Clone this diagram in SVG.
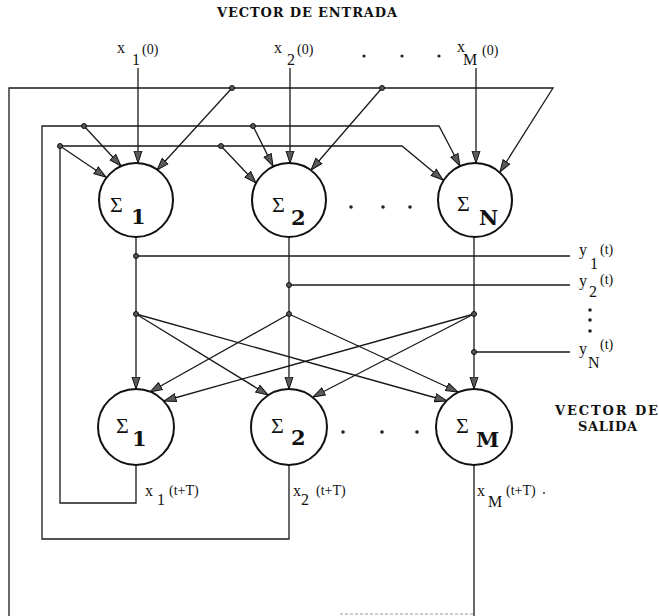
<svg xmlns="http://www.w3.org/2000/svg" width="659" height="616" viewBox="0 0 659 616">
<defs>
<marker id="arr" viewBox="0 0 13 10" refX="12.5" refY="5" markerWidth="13" markerHeight="10" orient="auto" markerUnits="userSpaceOnUse">
<path d="M0.5,1 L12.5,5 L0.5,9 Z" fill="#5a5a5a" stroke="#111" stroke-width="1"/>
</marker>
</defs>
<style>
.ln{fill:none;stroke:#1a1a1a;stroke-width:1.3}
.ar{fill:none;stroke:#1a1a1a;stroke-width:1.3;marker-end:url(#arr)}
.nd{fill:#fff;stroke:#111;stroke-width:2}
.dot{fill:#555;stroke:#111;stroke-width:1}
.sd{fill:#222}
.t{font-family:"Liberation Serif",serif;font-size:16px;fill:#111}
.ts{font-family:"Liberation Serif",serif;font-size:14px;fill:#111}
.sig{font-family:"Liberation Serif",serif;font-size:22px;fill:#111}
.sub{font-family:"DejaVu Serif",serif;font-size:21px;font-weight:bold;fill:#111}
.hd{font-family:"DejaVu Serif",serif;font-size:13px;font-weight:bold;fill:#111}
</style>
<g id="connectors">
<path class="ar" d="M138,68 V163"/>
<path class="ar" d="M290,68 V163"/>
<path class="ar" d="M476,68 V163"/>
<path class="ar" d="M474,465 V616 M9,616 V88 H553 L500,172"/>
<path d="M340,614 H474" fill="none" stroke="#999" stroke-width="1" stroke-dasharray="3,2"/>
<path class="ar" d="M232,88 L157,170"/>
<path class="ar" d="M382,88 L311,170"/>
<path class="ar" d="M289,465 V539 H42 V126 H439 L460,166"/>
<path class="ar" d="M84,126 L121,166"/>
<path class="ar" d="M253,126 L273,166"/>
<path class="ar" d="M136,465 V503 H60 V146 H402 L443,180"/>
<path class="ar" d="M60,146 L106,177"/>
<path class="ar" d="M221,146 L256,183"/>
<path class="ar" d="M136,237 V389"/>
<path class="ar" d="M289,237 V389"/>
<path class="ar" d="M474,237 V389"/>
<path class="ln" d="M136,256 H570"/>
<path class="ln" d="M289,285 H570"/>
<path class="ln" d="M474,352 H570"/>
<path class="ar" d="M136,314 L268,395"/>
<path class="ar" d="M136,314 L447,401"/>
<path class="ar" d="M289,314 L150,392"/>
<path class="ar" d="M289,314 L458,392"/>
<path class="ar" d="M474,314 L164,401"/>
<path class="ar" d="M474,314 L313,397"/>
<circle class="dot" cx="232" cy="88" r="2.5"/>
<circle class="dot" cx="382" cy="88" r="2.5"/>
<circle class="dot" cx="84" cy="126" r="2.5"/>
<circle class="dot" cx="253" cy="126" r="2.5"/>
<circle class="dot" cx="60" cy="146" r="2.5"/>
<circle class="dot" cx="221" cy="146" r="2.5"/>
<circle class="dot" cx="136" cy="256" r="2.5"/>
<circle class="dot" cx="289" cy="285" r="2.5"/>
<circle class="dot" cx="474" cy="352" r="2.5"/>
<circle class="dot" cx="136" cy="314" r="2.5"/>
<circle class="dot" cx="289" cy="314" r="2.5"/>
<circle class="dot" cx="474" cy="314" r="2.5"/>
</g>
<g id="top-s1"><circle class="nd" cx="136" cy="200" r="37"/><text class="sig" x="110" y="212">Σ</text><text class="sub" x="131" y="224">1</text></g>
<g id="top-s2"><circle class="nd" cx="289" cy="200" r="37"/><text class="sig" x="272" y="212">Σ</text><text class="sub" x="291" y="225">2</text></g>
<g id="top-sN"><circle class="nd" cx="475" cy="200" r="37"/><text class="sig" x="457" y="211">Σ</text><text class="sub" x="479" y="225">N</text></g>
<g id="bot-s1"><circle class="nd" cx="136" cy="427" r="38"/><text class="sig" x="116" y="433">Σ</text><text class="sub" x="132" y="446">1</text></g>
<g id="bot-s2"><circle class="nd" cx="289" cy="427" r="38"/><text class="sig" x="271" y="433">Σ</text><text class="sub" x="291" y="445">2</text></g>
<g id="bot-sM"><circle class="nd" cx="474" cy="427" r="38"/><text class="sig" x="456" y="433">Σ</text><text class="sub" x="476" y="447">M</text></g>
<g id="ellipses">
<circle class="sd" cx="351" cy="207" r="1.8"/><circle class="sd" cx="383" cy="207" r="1.8"/><circle class="sd" cx="410" cy="207" r="1.8"/>
<circle class="sd" cx="343" cy="432" r="1.8"/><circle class="sd" cx="382" cy="432" r="1.8"/><circle class="sd" cx="417" cy="432" r="1.8"/>
<circle class="sd" cx="364" cy="56" r="1.6"/><circle class="sd" cx="402" cy="56" r="1.6"/><circle class="sd" cx="439" cy="56" r="1.6"/>
<circle class="sd" cx="590" cy="310" r="1.8"/><circle class="sd" cx="590" cy="320" r="1.8"/><circle class="sd" cx="590" cy="331" r="1.8"/>
<circle class="sd" cx="544" cy="493" r="0.9"/>
</g>
<g id="labels">
<text class="hd" x="217" y="17" textLength="180" lengthAdjust="spacing">VECTOR DE ENTRADA</text>
<text class="hd" x="555" y="415" textLength="103" lengthAdjust="spacing">VECTOR DE</text>
<text class="hd" x="578" y="431" textLength="59" lengthAdjust="spacing">SALIDA</text>
<text class="t" x="117" y="53">x</text><text class="t" x="132" y="65">1</text><text class="ts" x="142" y="54">(0)</text>
<text class="t" x="274" y="53">x</text><text class="t" x="287" y="65">2</text><text class="ts" x="297" y="54">(0)</text>
<text class="t" x="457" y="52">x</text><text class="t" x="463" y="65">M</text><text class="ts" x="482" y="55">(0)</text>
<text class="t" x="579" y="255">y</text><text class="t" x="590" y="269">1</text><text class="ts" x="600" y="254">(t)</text>
<text class="t" x="579" y="286">y</text><text class="t" x="589" y="297">2</text><text class="ts" x="600" y="284">(t)</text>
<text class="t" x="579" y="354">y</text><text class="t" x="588" y="368">N</text><text class="ts" x="600" y="349">(t)</text>
<text class="t" x="145" y="496">x</text><text class="t" x="157" y="505">1</text><text class="ts" x="169" y="495">(t+T)</text>
<text class="t" x="293" y="496">x</text><text class="t" x="301" y="505">2</text><text class="ts" x="316" y="495">(t+T)</text>
<text class="t" x="477" y="496">x</text><text class="t" x="488" y="507">M</text><text class="ts" x="506" y="495">(t+T)</text>
</g>
</svg>
